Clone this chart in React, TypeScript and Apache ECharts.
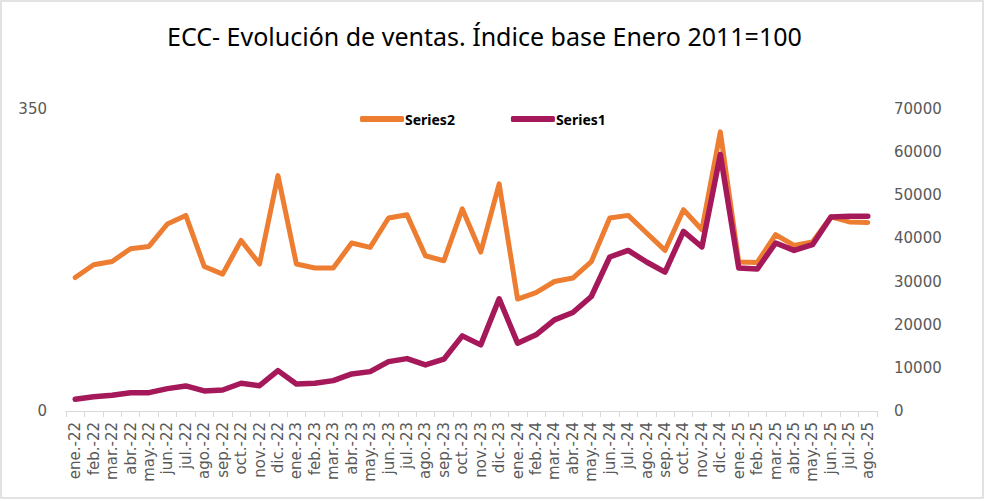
import React, { useEffect, useRef } from "react";
import * as echarts from "echarts";

const categories = [
  "ene.-22","feb.-22","mar.-22","abr.-22","may.-22","jun.-22","jul.-22","ago.-22","sep.-22","oct.-22","nov.-22","dic.-22",
  "ene.-23","feb.-23","mar.-23","abr.-23","may.-23","jun.-23","jul.-23","ago.-23","sep.-23","oct.-23","nov.-23","dic.-23",
  "ene.-24","feb.-24","mar.-24","abr.-24","may.-24","jun.-24","jul.-24","ago.-24","sep.-24","oct.-24","nov.-24","dic.-24",
  "ene.-25","feb.-25","mar.-25","abr.-25","may.-25","jun.-25","jul.-25","ago.-25",
];

const series2 = [
  154.7,169.5,173.3,188.1,190.7,216.7,226.7,167.5,158.7,197.7,170.3,272.8,
  170.3,165.7,165.7,194.7,189.6,223.7,227.5,179.9,174.1,234.2,184.2,263.2,
  129.7,137.3,150.1,154.1,173.0,223.7,226.7,206.3,186.1,233.3,210.1,323.5,
  172.6,172.2,204.3,191.9,195.8,224.9,219.1,218.6,
];

const series1 = [
  2717,3320,3645,4250,4250,5180,5805,4644,4876,6432,5875,9358,
  6270,6432,7036,8591,9125,11448,12144,10681,12005,17415,15325,26006,
  15720,17647,21130,22825,26540,35690,37222,34528,32206,41633,38011,59443,
  33135,32903,38940,37222,38545,44977,45116,45116,
];

const leftTicks = { min: 0, max: 350, interval: 350 };
const rightTicks = { min: 0, max: 70000, interval: 10000 };

export default function App() {
  const ref = useRef<HTMLDivElement>(null);
  useEffect(() => {
    if (!ref.current) return;
    const chart = echarts.init(ref.current, undefined, { renderer: "svg" });
    const axisLabel = { color: "#595959", fontSize: 15, fontFamily: "DejaVu Sans" };
    chart.setOption({
      animation: false,
      backgroundColor: "#ffffff",
      title: {
        text: "ECC- Evolución de ventas. Índice base Enero 2011=100",
        left: 162,
        top: 18,
        textStyle: { fontFamily: "Noto Sans", fontWeight: "normal", fontSize: 25, color: "#000000" },
      },
      graphic: [
        {
          type: "rect",
          shape: { x: 1, y: 1, width: 982, height: 497 },
          style: { fill: "none", stroke: "#d9d9d9", lineWidth: 1.5 },
          silent: true,
        },
      ],
      legend: {
        data: ["Series2", "Series1"],
        top: 107,
        left: 355,
        itemWidth: 44,
        itemHeight: 6,
        itemGap: 56,
        icon: "roundRect",
        textStyle: { fontFamily: "Noto Sans", fontWeight: "bold", fontSize: 14, color: "#000000", padding: [0, 0, 0, -4] },
      },
      grid: { left: 66, right: 108, top: 109, bottom: 90, containLabel: false },
      xAxis: {
        type: "category",
        data: categories,
        boundaryGap: true,
        axisLine: { lineStyle: { color: "#d9d9d9", width: 1 } },
        axisTick: { show: true, interval: 0, length: 6, lineStyle: { color: "#d9d9d9" } },
        axisLabel: { ...axisLabel, interval: 0, rotate: 90, margin: 11 },
        splitLine: { show: false },
      },
      yAxis: [
        {
          type: "value",
          ...leftTicks,
          position: "left",
          axisLine: { show: false },
          axisTick: { show: false },
          splitLine: { show: false },
          axisLabel: { ...axisLabel, margin: 19 },
        },
        {
          type: "value",
          ...rightTicks,
          position: "right",
          axisLine: { show: false },
          axisTick: { show: false },
          splitLine: { show: false },
          axisLabel: { ...axisLabel, margin: 17, align: "left", formatter: (v: number) => String(v) },
        },
      ],
      series: [
        {
          name: "Series2",
          type: "line",
          yAxisIndex: 0,
          data: series2,
          symbol: "none",
          color: "#ed7d31",
          lineStyle: { width: 5, color: "#ed7d31", cap: "round", join: "round" },
        },
        {
          name: "Series1",
          type: "line",
          yAxisIndex: 1,
          data: series1,
          symbol: "none",
          color: "#a5195a",
          lineStyle: { width: 5.5, color: "#a5195a", cap: "round", join: "round" },
        },
      ],
    });
    return () => chart.dispose();
  }, []);
  return <div ref={ref} style={{ position: "fixed", left: 0, top: 0, width: 985, height: 501 }} />;
}
